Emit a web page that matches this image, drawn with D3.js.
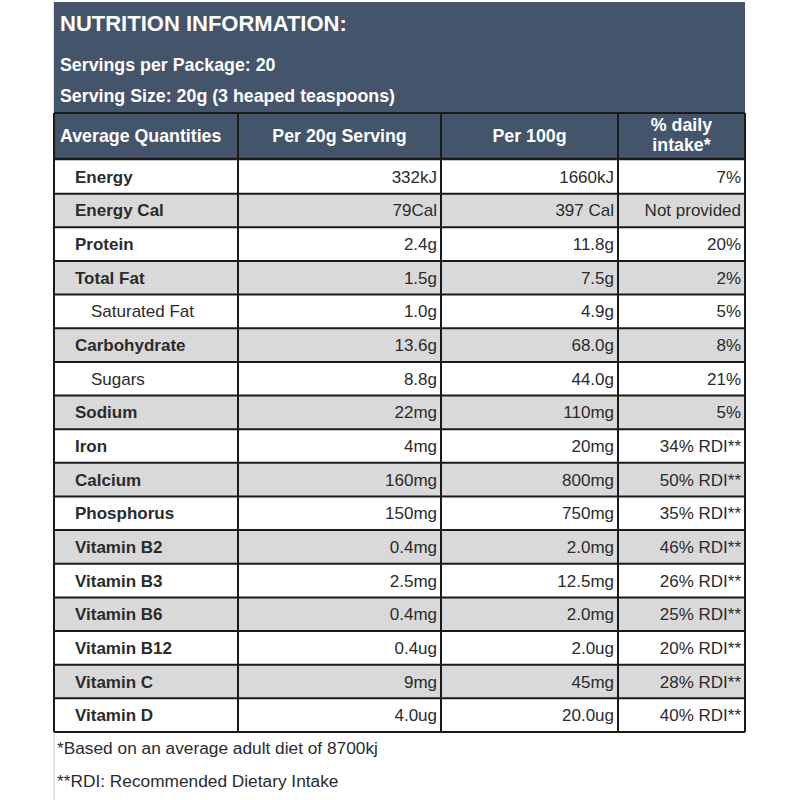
<!DOCTYPE html>
<html><head><meta charset="utf-8">
<script src="https://cdn.jsdelivr.net/npm/d3@7"></script>
<style>html,body{margin:0;padding:0;background:#fff;}svg{display:block;font-family:"Liberation Sans",Arial,sans-serif;}</style>
</head><body>
<script>
const title = "NUTRITION INFORMATION:";
const subLines = ["Servings per Package: 20", "Serving Size: 20g (3 heaped teaspoons)"];
const columns = ["Average Quantities", "Per 20g Serving", "Per 100g", "% daily|intake*"];
const nutrients = ["Energy","Energy Cal","Protein","Total Fat","Saturated Fat","Carbohydrate","Sugars","Sodium","Iron","Calcium","Phosphorus","Vitamin B2","Vitamin B3","Vitamin B6","Vitamin B12","Vitamin C","Vitamin D"];
const subItems = ["Saturated Fat","Sugars"];
const perServing = ["332kJ","79Cal","2.4g","1.5g","1.0g","13.6g","8.8g","22mg","4mg","160mg","150mg","0.4mg","2.5mg","0.4mg","0.4ug","9mg","4.0ug"];
const per100g = ["1660kJ","397 Cal","11.8g","7.5g","4.9g","68.0g","44.0g","110mg","20mg","800mg","750mg","2.0mg","12.5mg","2.0mg","2.0ug","45mg","20.0ug"];
const dailyIntake = ["7%","Not provided","20%","2%","5%","8%","21%","5%","34% RDI**","50% RDI**","35% RDI**","46% RDI**","26% RDI**","25% RDI**","20% RDI**","28% RDI**","40% RDI**"];
const footnotes = ["*Based on an average adult diet of 8700kj", "**RDI: Recommended Dietary Intake"];

const W = 800, H = 800;
const left = 54, right = 745;
const colEdges = [54, 238, 441, 618, 745];
const headTop = 2, headBottom = 113, colHeadBottom = 159, tableBottom = 732;
const dark = "#44546a", grey = "#d9d9d9", lineC = "#1a1a1a", txt = "#2b2b2b";

const svg = d3.select("body").append("svg").attr("width", W).attr("height", H);

// header block
svg.append("rect").attr("x", left).attr("y", headTop).attr("width", right-left).attr("height", colHeadBottom-headTop).attr("fill", dark);
svg.append("text").attr("x", 60).attr("y", 31).attr("fill", "#fff").attr("font-weight", "bold").attr("font-size", 22).text(title);
const subY = d3.scalePoint().domain(subLines).range([71, 102]);
svg.selectAll("text.sub").data(subLines).join("text").attr("class","sub")
  .attr("x", 60).attr("y", d => subY(d)).attr("fill","#fff").attr("font-weight","bold").attr("font-size",17.8).text(d=>d);

// rows
const y = d3.scaleBand().domain(nutrients).range([colHeadBottom+1, tableBottom]);
const rowsIdx = d3.range(nutrients.length);
svg.selectAll("rect.row").data(rowsIdx).join("rect").attr("class","row")
  .attr("x", left).attr("y", i => y(nutrients[i])).attr("width", right-left).attr("height", y.bandwidth())
  .attr("fill", i => i % 2 ? grey : "#fff");

// header row text
const colCenter = i => (colEdges[i]+colEdges[i+1])/2;
columns.forEach((c, i) => {
  const lines = c.split("|");
  const t = svg.append("text").attr("fill","#fff").attr("font-weight","bold").attr("font-size",17.8)
    .attr("text-anchor", i === 0 ? "start" : "middle")
    .attr("x", i === 0 ? 60 : colCenter(i));
  if (lines.length === 1) t.attr("y", 142).text(c);
  else lines.forEach((l, k) => t.append("tspan").attr("x", colCenter(i)).attr("y", 131 + k*20).text(l));
});

// body text
const cols = [perServing, per100g, dailyIntake];
const g = svg.append("g").attr("font-size", 17).attr("fill", txt);
nutrients.forEach((n, i) => {
  const cy = y(n) + y.bandwidth()/2 + 6;
  const sub = subItems.includes(n);
  g.append("text").attr("x", sub ? 91 : 75).attr("y", cy).attr("font-weight", sub ? "normal" : "bold").text(n);
  cols.forEach((arr, j) => {
    g.append("text").attr("x", colEdges[j+2]-4).attr("y", cy).attr("text-anchor","end").text(arr[i]);
  });
});

// grid lines
const lines = svg.append("g").attr("stroke", lineC).attr("stroke-width", 2);
lines.append("line").attr("x1", left).attr("x2", right).attr("y1", headBottom).attr("y2", headBottom);
lines.append("line").attr("x1", left).attr("x2", right).attr("y1", colHeadBottom).attr("y2", colHeadBottom).attr("stroke-width", 2.5);
nutrients.forEach(n => {
  lines.append("line").attr("x1", left).attr("x2", right).attr("y1", y(n)+y.bandwidth()).attr("y2", y(n)+y.bandwidth());
});
colEdges.forEach(x => {
  lines.append("line").attr("x1", x).attr("x2", x).attr("y1", headBottom).attr("y2", tableBottom);
});
svg.append("line").attr("x1", left).attr("x2", left).attr("y1", headTop).attr("y2", 800).attr("stroke","#c8c8c8").attr("stroke-width",1).lower();

// footnotes
const fy = d3.scalePoint().domain(footnotes).range([754, 787]);
svg.selectAll("text.foot").data(footnotes).join("text").attr("class","foot")
  .attr("x", 57).attr("y", d => fy(d)).attr("font-size", 17.3).attr("fill", txt).text(d => d);
</script>
</body></html>
